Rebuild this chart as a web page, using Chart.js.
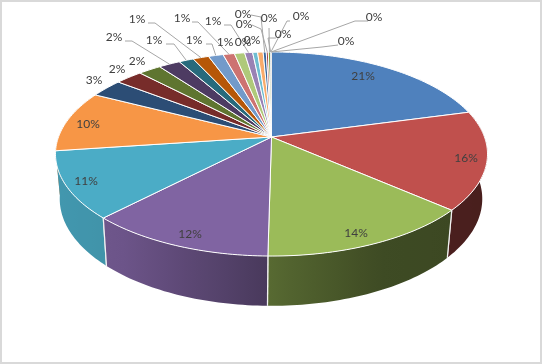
<!DOCTYPE html>
<html>
<head>
<meta charset="utf-8">
<style>
  html, body { margin: 0; padding: 0; background: #fff; }
  canvas { display: block; }
</style>
<script src="https://cdn.jsdelivr.net/npm/chart.js@4"></script>
</head>
<body>
<canvas id="myChart" width="542" height="364"></canvas>
<script>
const categories = ['A', 'B', 'C', 'D', 'E', 'F', 'G', 'H', 'I', 'J', 'K', 'L', 'M', 'N', 'O', 'P', 'Q', 'R', 'S', 'T', 'U', 'V', 'W', 'X', 'Y'];
const shares = [20.8, 15.6, 13.8, 12.0, 10.6, 9.7, 2.9, 2.4, 2.0, 1.9, 1.3, 1.4, 1.3, 1.0, 0.9, 0.7, 0.43, 0.49, 0.27, 0.18, 0.2, 0.02, 0.02, 0.02, 0.02];
const colors = ['#4F81BD', '#C0504D', '#9BBB59', '#8064A2', '#4BACC6', '#F79646', '#2C4D75', '#772C2A', '#5F7530', '#4D3B62', '#276A7C', '#B65708', '#729ACA', '#CD7371', '#AFC97A', '#9982B4', '#6FBDD1', '#F9AB6B', '#3A679C', '#9F3B38', '#7F9C40', '#664F83', '#358EA6', '#F37619', '#8CA9D5'];

// where each percent label sits (centre of the text)
const labelSpots = [[363, 76], [466, 158], [356, 233], [190, 234], [86, 181], [88, 124], [94, 80], [117, 69], [137, 61], [114, 37], [154, 40], [137, 19], [194, 40], [182, 18], [225, 42], [213, 21], [243, 42], [252, 40], [243, 14], [244, 24], [269, 18], [283, 34], [301, 16], [374, 17], [346, 41]];

// leader lines: slice index -> first two points, the last point comes from the slice
const leaders = {
    9: [[125, 41], [132, 41]],
    10: [[166, 44], [174, 44]],
    11: [[148, 23], [155, 23]],
    12: [[206, 44], [212, 44]],
    13: [[192, 22], [198, 22]],
    15: [[224, 25], [231, 25]],
    18: [[251, 15], [261, 17]],
    19: [[252, 25], [261, 29]],
    20: [[269, 28], [269, 28]],
    21: [[276, 38], [268, 38]],
    22: [[290, 21], [287, 21]],
    23: [[368, 21], [355, 21]],
    24: [[338, 45], [322, 47]]
};

// perspective of the tilted disc
const centerX = 271.5;
const centerY = 137;
const radiusX = 213;
const radiusY = 99.2;
const tilt = 1 / 6;

function topPoint(angle) {
    const u = Math.cos(angle);
    const v = Math.sin(angle);
    const w = 1 / (1 - tilt * v);
    return [centerX + radiusX * u * w, centerY + radiusY * v * w];
}

function bottomPoint(angle) {
    const u = Math.cos(angle);
    const v = Math.sin(angle);
    const w = 1 / (1 - tilt * v);
    return [centerX + radiusX * 0.978 * u * w - 0.5, 181 + 104 * v * w];
}

function arcPoints(project, start, end) {
    const steps = Math.max(2, Math.ceil((end - start) / 0.02));
    const points = [];
    for (let i = 0; i <= steps; i++) {
        points.push(project(start + (end - start) * i / steps));
    }
    return points;
}

// side wall gets darker from left to right
function shade(t) {
    const stops = [[-1, 0.88], [-0.7, 0.85], [0, 0.56], [0.5, 0.4], [1, 0.38]];
    for (let i = 1; i < stops.length; i++) {
        if (t <= stops[i][0]) {
            const k = (t - stops[i - 1][0]) / (stops[i][0] - stops[i - 1][0]);
            return stops[i - 1][1] + (stops[i][1] - stops[i - 1][1]) * k;
        }
    }
    return 0.38;
}

function darken(hex, f) {
    const n = parseInt(hex.slice(1), 16);
    const r = Math.round((n >> 16 & 255) * f);
    const g = Math.round((n >> 8 & 255) * f);
    const b = Math.round((n & 255) * f);
    return `rgb(${r}, ${g}, ${b})`;
}

function tracePath(ctx, points) {
    ctx.beginPath();
    points.forEach((p, i) => {
        if (i === 0) ctx.moveTo(p[0], p[1]);
        else ctx.lineTo(p[0], p[1]);
    });
}

const pie3d = {
    id: 'pie3d',
    beforeDatasetsDraw(chart) {
        const ctx = chart.ctx;
        const arcs = chart.getDatasetMeta(0).data;
        const total = shares.reduce((a, b) => a + b, 0);

        ctx.save();

        // walls, back to front
        const wallOrder = arcs.map((el, i) => i)
            .filter(i => Math.sin(arcs[i].startAngle) > 0 || Math.sin(arcs[i].endAngle) > 0)
            .sort((a, b) => Math.sin((arcs[a].startAngle + arcs[a].endAngle) / 2) - Math.sin((arcs[b].startAngle + arcs[b].endAngle) / 2));

        wallOrder.forEach(i => {
            const el = arcs[i];
            const upper = arcPoints(topPoint, el.startAngle, el.endAngle);
            const lower = arcPoints(bottomPoint, el.startAngle, el.endAngle).reverse();
            const xs = upper.map(p => p[0]);
            const x0 = Math.min(...xs);
            const x1 = Math.max(...xs) + 0.01;
            const grad = ctx.createLinearGradient(x0, 0, x1, 0);
            for (let s = 0; s <= 8; s++) {
                const x = x0 + (x1 - x0) * s / 8;
                grad.addColorStop(s / 8, darken(colors[i], shade((x - centerX) / 216)));
            }
            tracePath(ctx, upper.concat(lower));
            ctx.closePath();
            ctx.fillStyle = grad;
            ctx.fill();

            // white seams between the walls
            ctx.strokeStyle = '#f2f2f2';
            ctx.lineWidth = 1.2;
            [el.startAngle, el.endAngle].forEach(a => {
                if (Math.sin(a) > 0.25) {
                    tracePath(ctx, [topPoint(a), bottomPoint(a)]);
                    ctx.stroke();
                }
            });
        });

        // top face
        arcs.forEach((el, i) => {
            const points = [[centerX, centerY]].concat(arcPoints(topPoint, el.startAngle, el.endAngle));
            tracePath(ctx, points);
            ctx.closePath();
            ctx.fillStyle = colors[i];
            ctx.fill();
            ctx.strokeStyle = '#ffffff';
            ctx.lineWidth = shares[i] < 0.1 ? 0.3 : 1;
            ctx.stroke();
        });

        // leader lines
        ctx.strokeStyle = '#a6a6a6';
        ctx.lineWidth = 1;
        Object.keys(leaders).forEach(key => {
            const el = arcs[key];
            const end = topPoint((el.startAngle + el.endAngle) / 2);
            tracePath(ctx, leaders[key].concat([end]));
            ctx.stroke();
        });

        // percent labels
        ctx.fillStyle = '#404040';
        ctx.font = '12px Lato, sans-serif';
        ctx.textAlign = 'center';
        ctx.textBaseline = 'middle';
        shares.forEach((value, i) => {
            const text = Math.round(value / total * 100) + '%';
            ctx.fillText(text, labelSpots[i][0], labelSpots[i][1]);
        });

        // chart frame
        ctx.strokeStyle = '#d9d9d9';
        ctx.lineWidth = 2;
        ctx.strokeRect(1, 1, 540, 362);

        ctx.restore();
        return false;
    }
};

new Chart(document.getElementById('myChart'), {
    type: 'pie',
    data: {
        labels: categories,
        datasets: [{
            data: shares,
            backgroundColor: colors
        }]
    },
    options: {
        responsive: false,
        animation: false,
        plugins: {
            legend: { display: false },
            tooltip: { enabled: false }
        }
    },
    plugins: [pie3d]
});
</script>
</body>
</html>
